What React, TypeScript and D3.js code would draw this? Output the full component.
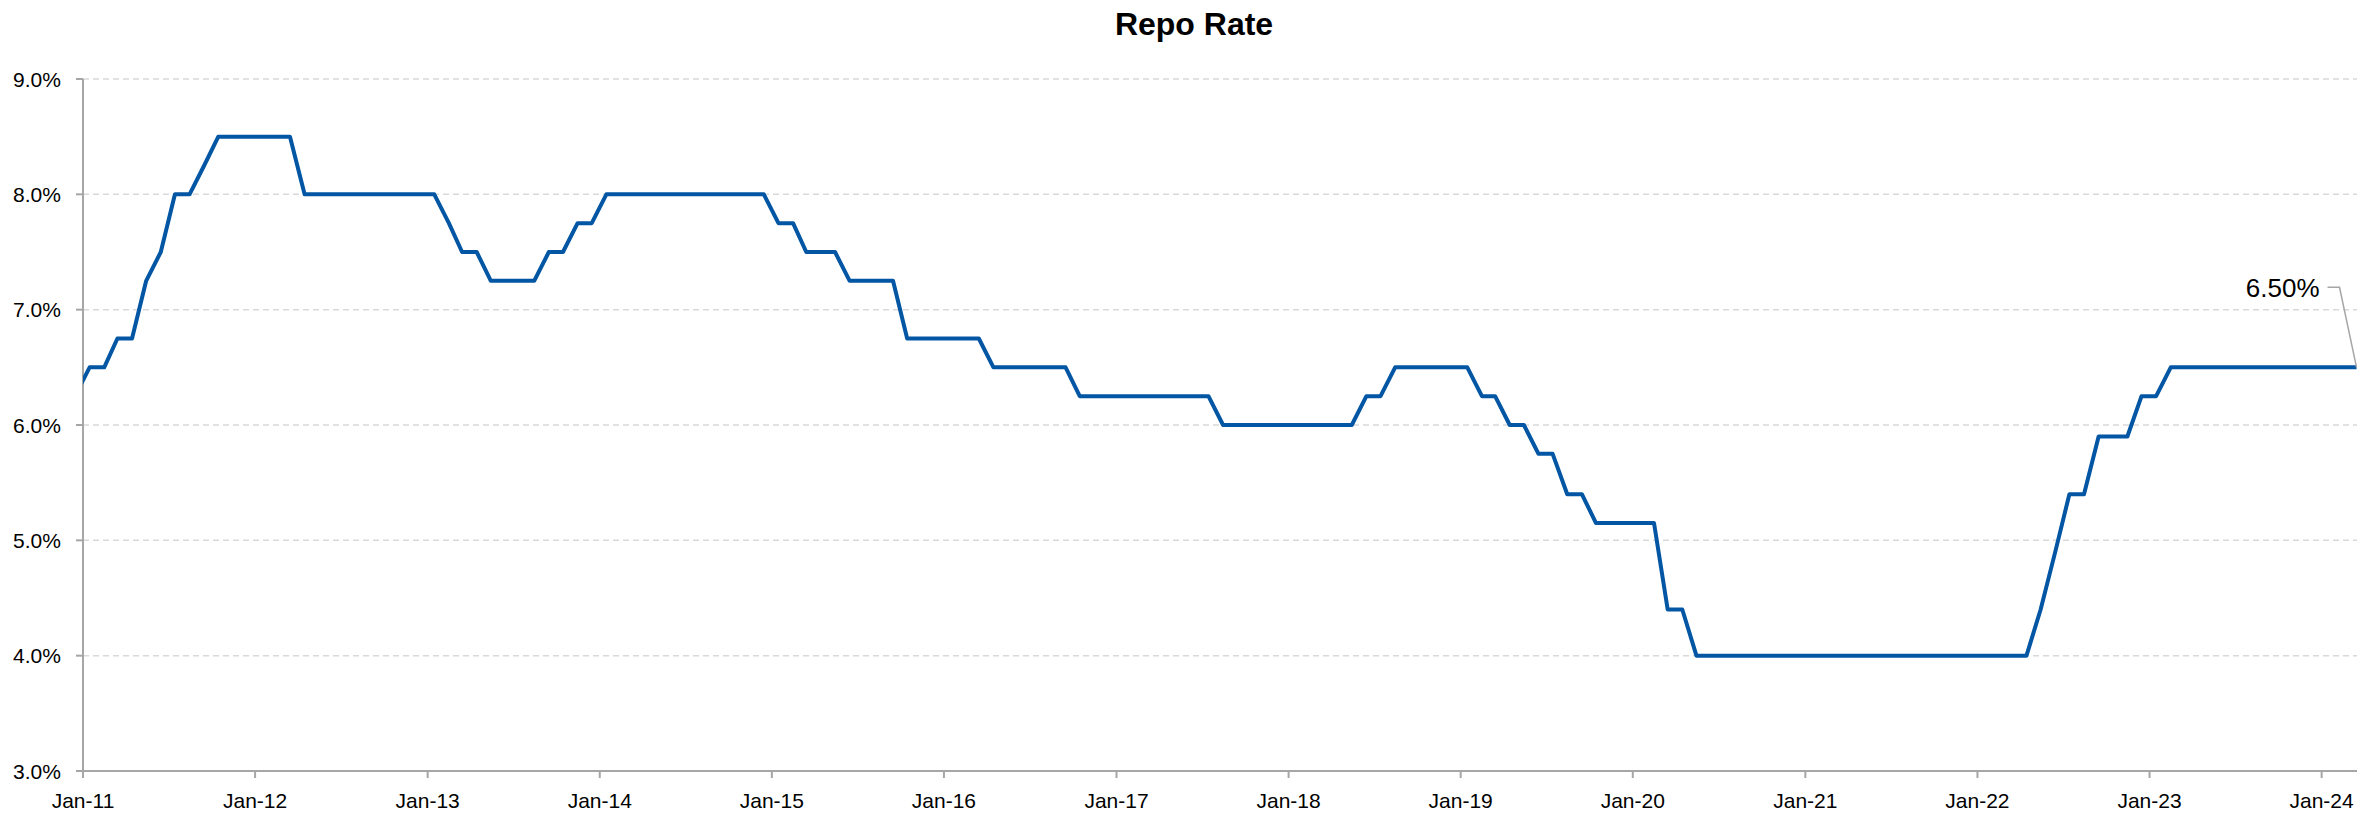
import * as d3 from "d3";

// month-end repo rate (%), one array per year; Dec-10 is the lead-in point
const startYear = 2010;
const startMonth = 11; // December 2010
const rateDec10 = [6.25];
const rate2011 = [6.5, 6.5, 6.75, 6.75, 7.25, 7.5, 8.0, 8.0, 8.25, 8.5, 8.5, 8.5];
const rate2012 = [8.5, 8.5, 8.5, 8.0, 8.0, 8.0, 8.0, 8.0, 8.0, 8.0, 8.0, 8.0];
const rate2013 = [8.0, 7.75, 7.5, 7.5, 7.25, 7.25, 7.25, 7.25, 7.5, 7.5, 7.75, 7.75];
const rate2014 = [8.0, 8.0, 8.0, 8.0, 8.0, 8.0, 8.0, 8.0, 8.0, 8.0, 8.0, 8.0];
const rate2015 = [7.75, 7.75, 7.5, 7.5, 7.5, 7.25, 7.25, 7.25, 7.25, 6.75, 6.75, 6.75];
const rate2016 = [6.75, 6.75, 6.75, 6.5, 6.5, 6.5, 6.5, 6.5, 6.5, 6.25, 6.25, 6.25];
const rate2017 = [6.25, 6.25, 6.25, 6.25, 6.25, 6.25, 6.25, 6.0, 6.0, 6.0, 6.0, 6.0];
const rate2018 = [6.0, 6.0, 6.0, 6.0, 6.0, 6.25, 6.25, 6.5, 6.5, 6.5, 6.5, 6.5];
const rate2019 = [6.5, 6.25, 6.25, 6.0, 6.0, 5.75, 5.75, 5.4, 5.4, 5.15, 5.15, 5.15];
const rate2020 = [5.15, 5.15, 4.4, 4.4, 4.0, 4.0, 4.0, 4.0, 4.0, 4.0, 4.0, 4.0];
const rate2021 = [4.0, 4.0, 4.0, 4.0, 4.0, 4.0, 4.0, 4.0, 4.0, 4.0, 4.0, 4.0];
const rate2022 = [4.0, 4.0, 4.0, 4.0, 4.4, 4.9, 5.4, 5.4, 5.9, 5.9, 5.9, 6.25];
const rate2023 = [6.25, 6.5, 6.5, 6.5, 6.5, 6.5, 6.5, 6.5, 6.5, 6.5, 6.5, 6.5];
const rate2024 = [6.5, 6.5, 6.5];

const yTicks = [3, 4, 5, 6, 7, 8, 9];
const xTickYears = d3.range(2011, 2025);

type Point = { date: Date; value: number };

const allRates = [
  ...rateDec10, ...rate2011, ...rate2012, ...rate2013, ...rate2014, ...rate2015,
  ...rate2016, ...rate2017, ...rate2018, ...rate2019, ...rate2020, ...rate2021,
  ...rate2022, ...rate2023, ...rate2024,
];

const data: Point[] = allRates.map((value, i) => ({
  date: new Date(startYear, startMonth + i, 15),
  value,
}));

const width = 2361;
const height = 813;
const margin = { top: 79, right: 4, bottom: 42, left: 83 };
const labelFont = "'Liberation Sans Narrow', 'Arial Narrow', 'Liberation Sans', sans-serif";

const App = () => {
  const last = data[data.length - 1];

  const x = d3
    .scaleTime()
    .domain([new Date(2011, 0, 1), new Date(2024, 2, 16)])
    .range([margin.left, width - margin.right]);

  const y = d3
    .scaleLinear()
    .domain([3, 9])
    .range([height - margin.bottom, margin.top]);

  const line = d3
    .line<Point>()
    .x((d) => x(d.date))
    .y((d) => y(d.value));

  const x0 = margin.left;
  const x1 = width - margin.right;
  const yBase = y(3);

  const lx = x(last.date);
  const ly = y(last.value);

  return (
    <svg
      width={width}
      height={height}
      style={{ position: "absolute", left: 0, top: 0, background: "#fff" }}
    >
      <defs>
        <clipPath id="plot-clip">
          <rect x={x0} y={0} width={width - x0} height={height} />
        </clipPath>
      </defs>

      <text
        x={1194}
        y={35}
        textAnchor="middle"
        fontFamily={labelFont}
        fontWeight="bold"
        fontSize={32}
        fill="#000"
      >
        Repo Rate
      </text>

      {/* gridlines */}
      {yTicks
        .filter((t) => t > 3)
        .map((t) => (
          <line
            key={`g${t}`}
            x1={x0}
            x2={x1}
            y1={y(t)}
            y2={y(t)}
            stroke="#d9d9d9"
            strokeWidth={1.5}
            strokeDasharray="6 4"
          />
        ))}

      {/* y axis */}
      <line x1={x0} x2={x0} y1={y(9)} y2={yBase} stroke="#a6a6a6" strokeWidth={2} />
      {yTicks.map((t) => (
        <g key={`y${t}`}>
          <line x1={x0 - 7} x2={x0} y1={y(t)} y2={y(t)} stroke="#a6a6a6" strokeWidth={2} />
          <text
            x={61}
            y={y(t)}
            dy="0.36em"
            textAnchor="end"
            fontFamily={labelFont}
            fontSize={21}
            fill="#000"
          >
            {d3.format(".1f")(t)}%
          </text>
        </g>
      ))}

      {/* x axis */}
      <line x1={x0} x2={x1} y1={yBase} y2={yBase} stroke="#a6a6a6" strokeWidth={2} />
      {xTickYears.map((yr) => {
        const d = new Date(yr, 0, 1);
        const tx = x(d);
        return (
          <g key={`x${yr}`}>
            <line x1={tx} x2={tx} y1={yBase} y2={yBase + 7} stroke="#a6a6a6" strokeWidth={2} />
            <text
              x={tx}
              y={808}
              textAnchor="middle"
              fontFamily={labelFont}
              fontSize={21}
              fill="#000"
            >
              {d3.timeFormat("%b-%y")(d)}
            </text>
          </g>
        );
      })}

      <path
        d={line(data) ?? ""}
        fill="none"
        stroke="#0256A3"
        strokeWidth={4}
        strokeLinejoin="round"
        clipPath="url(#plot-clip)"
      />

      {/* last value label */}
      <polyline
        points={`${lx - 29},${ly - 80} ${lx - 17},${ly - 80} ${lx},${ly}`}
        fill="none"
        stroke="#a6a6a6"
        strokeWidth={1.5}
      />
      <text
        x={lx - 37}
        y={ly - 70}
        textAnchor="end"
        fontFamily={labelFont}
        fontSize={26}
        fill="#000"
      >
        {d3.format(".2f")(last.value)}%
      </text>
    </svg>
  );
};

export default App;
